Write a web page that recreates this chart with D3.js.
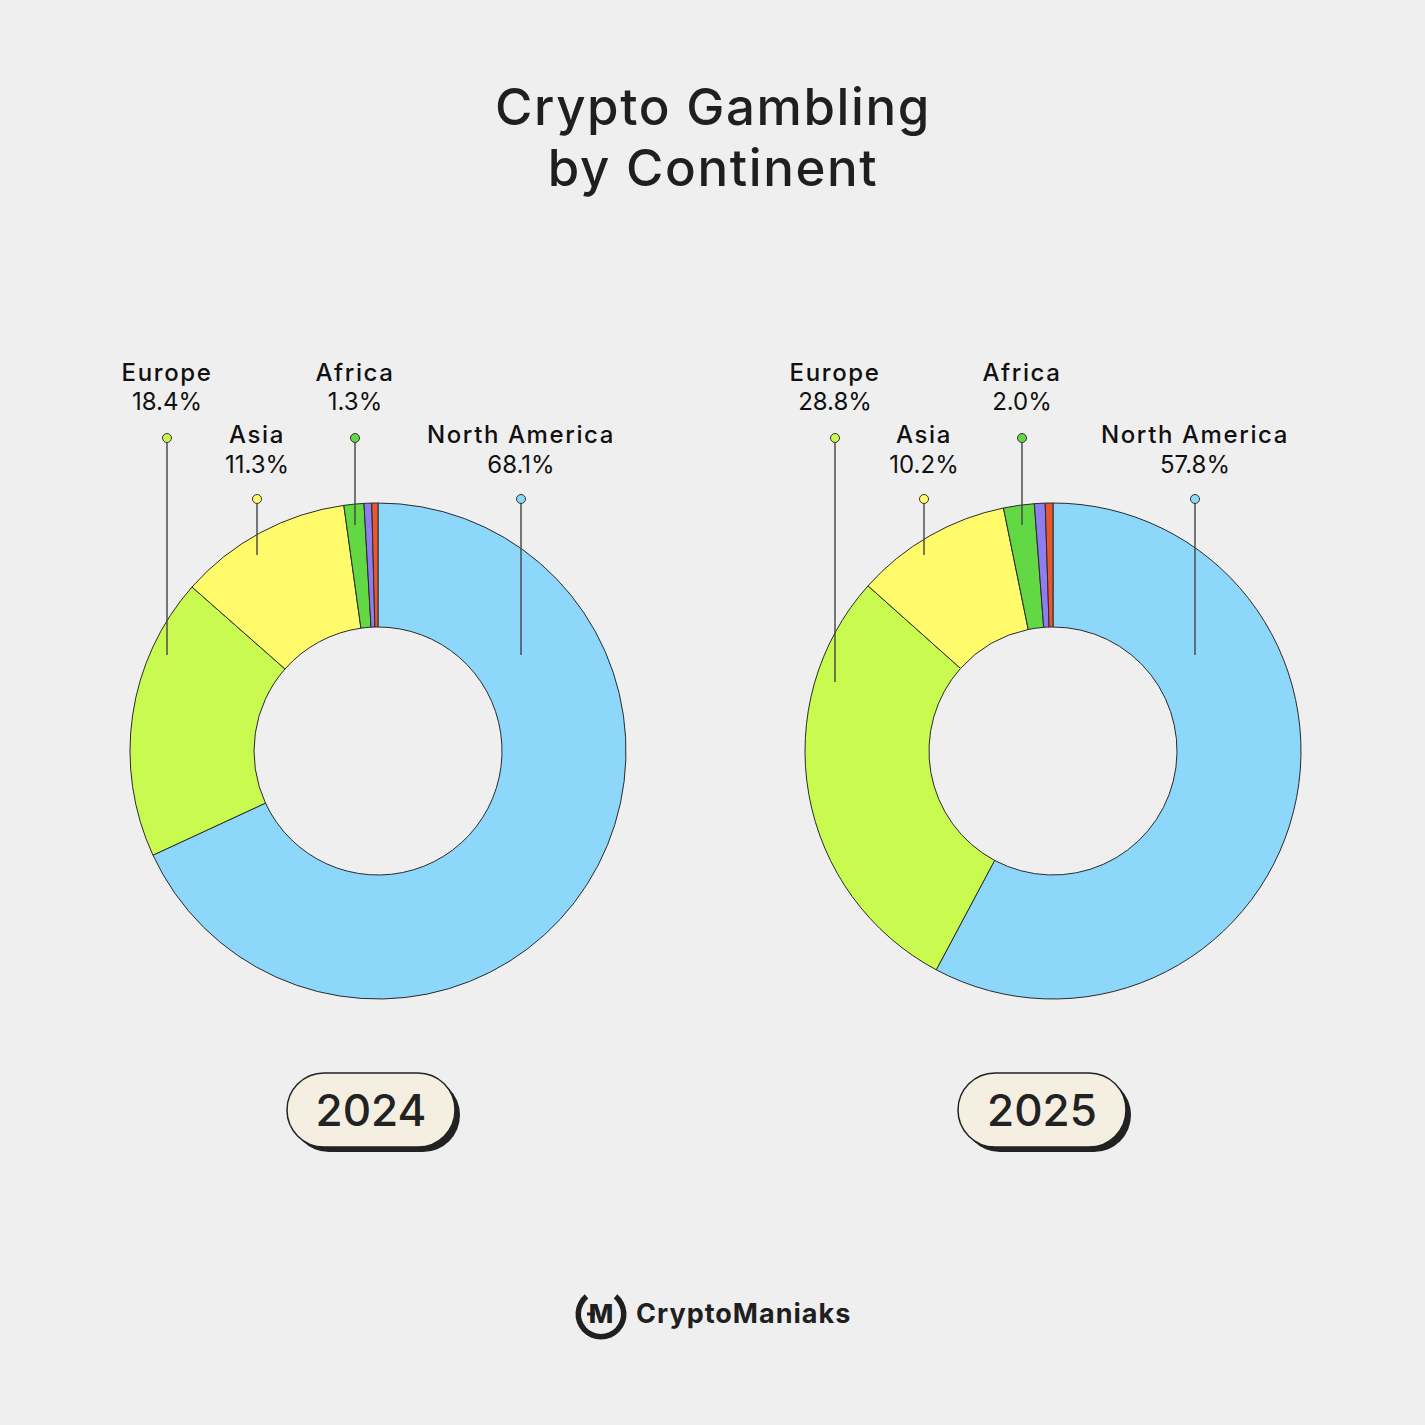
<!DOCTYPE html>
<html><head><meta charset="utf-8">
<script src="https://cdn.jsdelivr.net/npm/d3@7"></script>
<style>body{margin:0;background:#efefef} svg{display:block}</style>
</head><body><svg id="c" width="1425" height="1425"></svg>
<script>
// ---- data ----
const continents = ["North America","Europe","Asia","Africa","South America","Oceania"];
const colors = ["#8dd7fa","#c8fa50","#fffb6a","#62d944","#8f7cf0","#e8572e"];
const years = ["2024","2025"];
const values2024 = [68.1,18.4,11.3,1.3,0.5,0.4];
const values2025 = [57.8,28.8,10.2,2.0,0.7,0.5];
const labeled = ["North America","Europe","Asia","Africa"];

// ---- layout (annotation placement) ----
const FONT = "Inter, 'Noto Sans', sans-serif";
const W = 1425;
const centersX = [378, 1053], cy = 751, R = 248, r0 = 124;
const badgeDx = [-7, -11];
// label placement: [dx from center, tier (0 high,1 low), leader end y]
const labelLayout = [
  {"North America":[143,1,655],"Europe":[-211,0,655],"Asia":[-121,1,555],"Africa":[-23,0,525]},
  {"North America":[142,1,655],"Europe":[-218,0,682],"Asia":[-129,1,555],"Africa":[-31,0,525]}
];
const tiers = [{name:381,val:410,dot:438},{name:443,val:473,dot:499}];

const svg = d3.select("#c");
svg.append("rect").attr("width",W).attr("height",W).attr("fill","#efefef");

// title
const title = svg.append("text").attr("text-anchor","middle").attr("font-family",FONT)
  .attr("font-weight",500).attr("font-size",51).attr("letter-spacing",1.6).attr("fill","#1f1f1f");
title.append("tspan").attr("x",713).attr("y",125).text("Crypto Gambling");
title.append("tspan").attr("x",713).attr("y",186).text("by Continent");

const color = d3.scaleOrdinal().domain(continents).range(colors);
const pie = d3.pie().sort(null).value(d=>d.v).startAngle(0).endAngle(2*Math.PI);
const arc = d3.arc().innerRadius(r0).outerRadius(R);

[values2024, values2025].forEach((vals, i) => {
  const cx = centersX[i];
  const data = continents.map((c,k)=>({c, v: vals[k]}));
  const g = svg.append("g").attr("transform",`translate(${cx},${cy})`);
  g.selectAll("path").data(pie(data)).join("path")
    .attr("d",arc).attr("fill",d=>color(d.data.c))
    .attr("stroke","#2a2a2a").attr("stroke-width",1).attr("stroke-linejoin","round");

  // labels
  const lg = svg.append("g");
  labeled.forEach(name => {
    const [dx, tier, endY] = labelLayout[i][name];
    const x = cx + dx, t = tiers[tier];
    const v = vals[continents.indexOf(name)];
    lg.append("line").attr("x1",x).attr("x2",x).attr("y1",t.dot).attr("y2",endY)
      .attr("stroke","#444").attr("stroke-width",1.4);
    lg.append("circle").attr("cx",x).attr("cy",t.dot).attr("r",4.5)
      .attr("fill",color(name)).attr("stroke","#333").attr("stroke-width",1);
    lg.append("text").attr("x",x).attr("y",t.name).attr("text-anchor","middle")
      .attr("font-family",FONT).attr("font-weight",500).attr("font-size",24)
      .attr("letter-spacing",1.6).attr("fill","#111")
      .text(name);
    lg.append("text").attr("x",x).attr("y",t.val).attr("text-anchor","middle")
      .attr("font-family",FONT).attr("font-weight",400).attr("font-size",24).attr("fill","#111")
      .text(v.toFixed(1)+"%");
  });

  // year badge
  const bx = cx + badgeDx[i], bw = 168, bh = 74, by = 1073;
  svg.append("rect").attr("x",bx-bw/2+5).attr("y",by+5).attr("width",bw).attr("height",bh)
    .attr("rx",bh/2).attr("fill","#222");
  svg.append("rect").attr("x",bx-bw/2).attr("y",by).attr("width",bw).attr("height",bh)
    .attr("rx",bh/2).attr("fill","#f5efe2").attr("stroke","#222").attr("stroke-width",1.5);
  svg.append("text").attr("x",bx).attr("y",by+53).attr("text-anchor","middle")
    .attr("font-family",FONT).attr("font-weight",500).attr("font-size",44).attr("fill","#222")
    .text(years[i]);
});

// logo
const logo = svg.append("g").attr("transform","translate(601,1314)");
const ring = d3.arc().innerRadius(20).outerRadius(25.5)
  .startAngle(Math.PI*0.22).endAngle(Math.PI*1.78);
logo.append("path").attr("d",ring()).attr("fill","#1f1f1f");
logo.append("text").attr("x",0).attr("y",9).attr("text-anchor","middle")
  .attr("font-family",FONT).attr("font-weight",800).attr("font-size",26).attr("fill","#1f1f1f").text("M");
logo.append("rect").attr("x",-14).attr("y",-1.5).attr("width",8).attr("height",3).attr("fill","#1f1f1f");
svg.append("text").attr("x",636).attr("y",1323).attr("font-family",FONT).attr("font-weight",700)
  .attr("font-size",27).attr("letter-spacing",1).attr("fill","#1f1f1f").text("CryptoManiaks");
</script></body></html>
